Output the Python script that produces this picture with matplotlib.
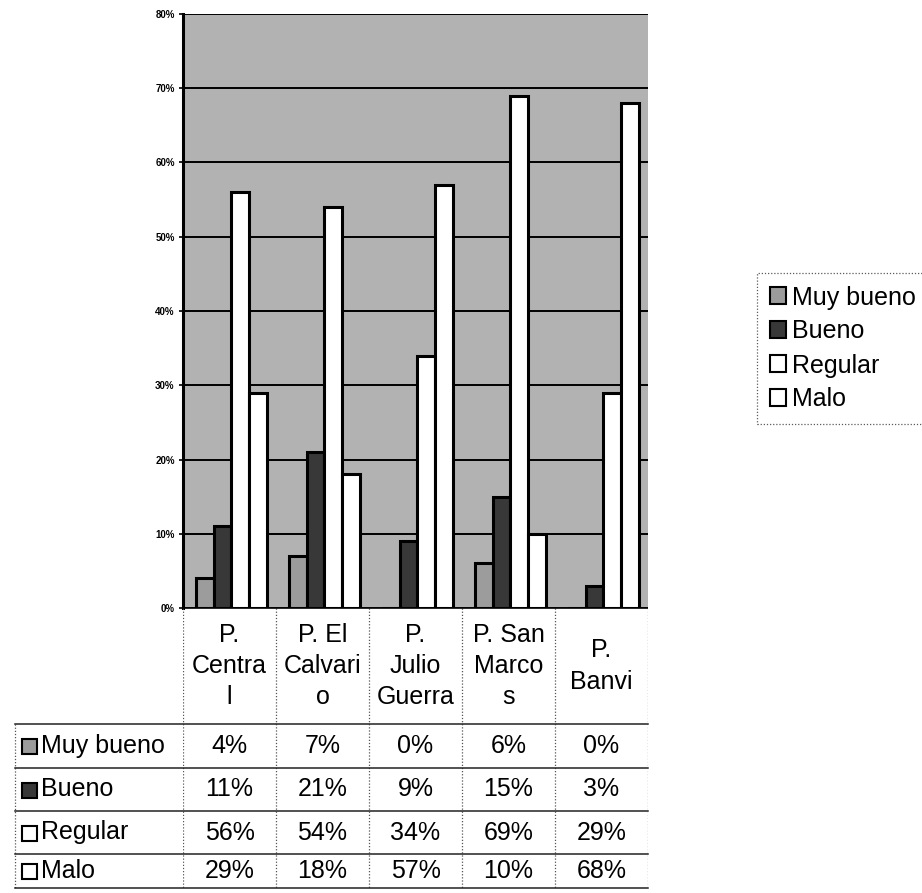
import matplotlib.pyplot as plt
from matplotlib.lines import Line2D
from matplotlib.patches import Rectangle
import numpy as np

categories = ["P.\nCentra\nl", "P. El\nCalvari\no", "P.\nJulio\nGuerra",
              "P. San\nMarco\ns", "P.\nBanvi"]
series = ["Muy bueno", "Bueno", "Regular", "Malo"]
muy_bueno = [4, 7, 0, 6, 0]
bueno = [11, 21, 9, 15, 3]
regular = [56, 54, 34, 69, 29]
malo = [29, 18, 57, 10, 68]
values = [muy_bueno, bueno, regular, malo]
colors = ["#9c9c9c", "#383838", "white", "white"]
yticks = [0, 10, 20, 30, 40, 50, 60, 70, 80]

plt.rcParams["font.family"] = ["Liberation Sans", "DejaVu Sans"]

W, H = 922, 893
fig = plt.figure(figsize=(W / 100, H / 100), dpi=100)

# plot area in pixels
px_left, px_right, px_top, px_bottom = 183, 648, 14, 608
ax = fig.add_axes([px_left / W, 1 - px_bottom / H,
                   (px_right - px_left) / W, (px_bottom - px_top) / H])
ax.set_facecolor("#b2b2b2")

n = len(categories)
x = np.arange(n)
bw = 0.19
for i, (name, vals, c) in enumerate(zip(series, values, colors)):
    ax.bar(x + (i - 1.4) * bw, vals, bw, color=c, edgecolor="black",
           linewidth=2.2, label=name, zorder=3)

ax.set_xlim(-0.5, n - 0.5)
ax.set_ylim(0, 80)
ax.set_yticks(yticks)
ax.set_yticklabels([f"{t}%" for t in yticks], fontsize=7, fontweight="bold")
ax.yaxis.grid(True, color="black", linewidth=1.4, zorder=0)
ax.set_axisbelow(True)
ax.set_xticks([])
ax.tick_params(axis="y", length=3, width=1.2, pad=3)
for s in ["top", "right", "bottom"]:
    ax.spines[s].set_visible(False)
ax.spines["left"].set_linewidth(2.2)

# data table below the plot, sharing the category axis
tab = fig.add_axes([px_left / W, 0, (px_right - px_left) / W,
                    (H - px_bottom) / H], sharex=ax)
tab.set_ylim(H - px_bottom, 0)
tab.axis("off")
row_edges = [0, 116, 160, 203, 246, 280]
cat_w = (px_right - px_left) / n
label_left = -0.5 - (px_left - 15) / cat_w
fs = 18
dots = (0, (1, 1.5))

# header cells
for i, cat in enumerate(categories):
    tab.text(i, row_edges[1] / 2, cat, ha="center", va="center",
             fontsize=fs, linespacing=1.38)
# vertical dotted lines
for k in range(n + 1):
    tab.add_line(Line2D([k - 0.5, k - 0.5], [0, row_edges[-1]],
                        color="#555555", linewidth=0.9, linestyle=dots))
tab.add_line(Line2D([label_left, label_left], [row_edges[1], row_edges[-1]],
                    color="#555555", linewidth=0.9, linestyle=dots,
                    clip_on=False))
# horizontal lines
tab.add_line(Line2D([-0.5, n - 0.5], [0, 0], color="black", linewidth=1.2))
for r in row_edges[1:]:
    tab.add_line(Line2D([label_left, n - 0.5], [r, r], color="#222222",
                        linewidth=1.1, clip_on=False))

# body rows
for j, (name, vals, c) in enumerate(zip(series, values, colors)):
    yc = (row_edges[j + 1] + row_edges[j + 2]) / 2
    tab.add_patch(Rectangle((label_left + 7 / cat_w, yc - 7), 15 / cat_w, 15,
                            facecolor=c, edgecolor="black", linewidth=1.5,
                            clip_on=False))
    tab.text(label_left + 26 / cat_w, yc, name, ha="left", va="center",
             fontsize=fs, clip_on=False)
    for i, v in enumerate(vals):
        tab.text(i, yc, f"{v}%", ha="center", va="center", fontsize=fs)

# legend on the right
leg = fig.legend(loc="upper left", bbox_to_anchor=(757 / W, 1 - 273 / H),
                 frameon=True, fancybox=False, edgecolor="#333333",
                 fontsize=fs, handlelength=0.65, handleheight=0.65,
                 handletextpad=0.25, labelspacing=0.4, borderpad=0.5,
                 borderaxespad=0)
leg.get_frame().set_linewidth(0.9)
leg.get_frame().set_linestyle(dots)
for h in leg.legend_handles:
    h.set_linewidth(1.5)

fig.savefig("out.png", dpi=100, facecolor="white")
